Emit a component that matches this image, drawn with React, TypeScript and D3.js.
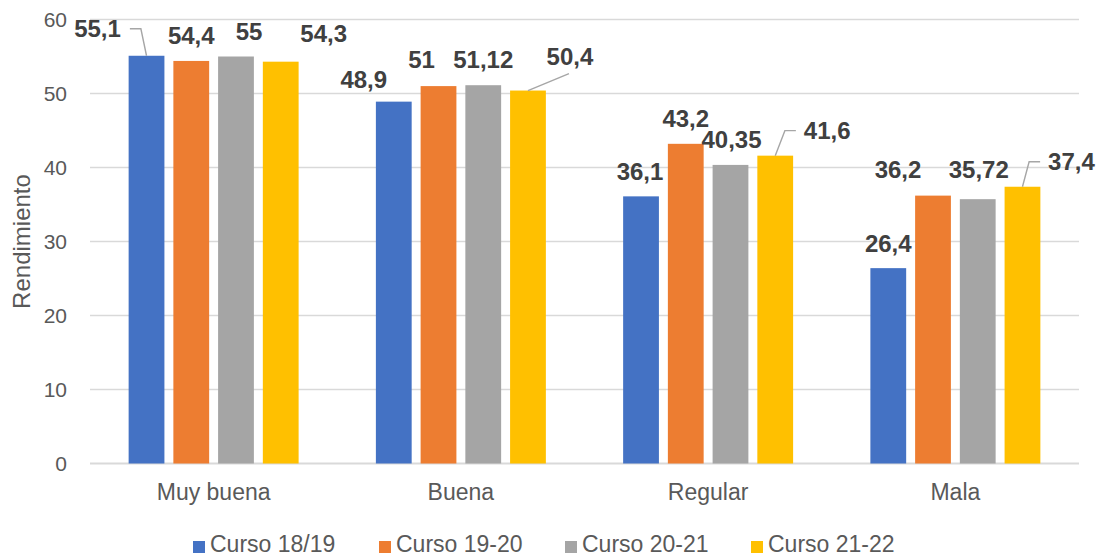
import React from "react";
import * as d3 from "d3";

// categories and series
const categories = ["Muy buena", "Buena", "Regular", "Mala"];
const seriesNames = ["Curso 18/19", "Curso 19-20", "Curso 20-21", "Curso 21-22"];
const curso1819 = [55.1, 48.9, 36.1, 26.4];
const curso1920 = [54.4, 51, 43.2, 36.2];
const curso2021 = [55, 51.12, 40.35, 35.72];
const curso2122 = [54.3, 50.4, 41.6, 37.4];
const seriesValues = [curso1819, curso1920, curso2021, curso2122];
const yTicks = [0, 10, 20, 30, 40, 50, 60];
const colors = ["#4472C4", "#ED7D31", "#A5A5A5", "#FFC000"];

// label nudges (relative to the top centre of each bar), as placed in the original
const labelNudge: [number, number][][] = [
  [[-49, -19], [-30, -14], [-1, -16], [0, -16]],
  [[0, -17], [-17, -18], [0, -17], [-35, -18]],
  [[13, -17], [0, -17], [1, -17], [1, -21]],
  [[43, -20], [42, -26], [52, -17], [49, -17]],
];
// leader lines: "left" elbow, "right" elbow, "straight"
const leaders: (string | null)[][] = [
  ["left", null, null, null],
  [null, null, null, null],
  [null, null, null, null],
  [null, "straight", "right", "right"],
];

const W = 1103;
const H = 556;
const margin = { left: 90, right: 24, top: 19.5, bottom: 92.5 };
const labelFont = 24;

const fmt = (v: number) => String(v).replace(".", ",");
const textWidth = (s: string, size: number) =>
  s.split("").reduce((a, c) => a + (c === "," ? 0.278 : 0.556), 0) * size;

export default function App() {
  const x0 = d3
    .scaleBand<string>()
    .domain(categories)
    .range([margin.left, W - margin.right])
    .paddingInner(0.3125)
    .paddingOuter(0.15625);
  const x1 = d3
    .scaleBand<number>()
    .domain(d3.range(seriesNames.length))
    .range([0, x0.bandwidth()])
    .paddingInner(0.2);
  const y = d3
    .scaleLinear()
    .domain([0, 60])
    .range([H - margin.bottom, margin.top]);

  const legendStep = 186;
  const legendX = 193;

  return (
    <svg
      width={W}
      height={H}
      style={{ position: "absolute", left: 0, top: 0, background: "#fff" }}
      fontFamily="'Liberation Sans', Arial, sans-serif"
    >
      {/* gridlines */}
      {yTicks.map((t) => (
        <g key={t}>
          <line
            x1={margin.left}
            x2={W - margin.right}
            y1={y(t)}
            y2={y(t)}
            stroke="#D9D9D9"
            strokeWidth={t === 0 ? 2 : 1.5}
          />
          <text
            x={67}
            y={y(t)}
            dy="0.35em"
            textAnchor="end"
            fontSize={21}
            fill="#595959"
          >
            {t}
          </text>
        </g>
      ))}

      <text
        transform={`translate(30,${(y(0) + y(60)) / 2}) rotate(-90)`}
        textAnchor="middle"
        fontSize={24}
        fill="#595959"
      >
        Rendimiento
      </text>

      {/* bars */}
      {seriesValues.map((vals, s) =>
        vals.map((v, i) => (
          <rect
            key={`${s}-${i}`}
            x={x0(categories[i])! + x1(s)!}
            y={y(v)}
            width={x1.bandwidth()}
            height={y(0) - y(v)}
            fill={colors[s]}
          />
        ))
      )}

      {/* data labels */}
      {seriesValues.map((vals, s) =>
        vals.map((v, i) => {
          const cx = x0(categories[i])! + x1(s)! + x1.bandwidth() / 2;
          const top = y(v);
          const [dx, dy] = labelNudge[s][i];
          const lx = cx + dx;
          const ly = top + dy;
          const label = fmt(v);
          const half = textWidth(label, labelFont) / 2;
          const mid = ly - 8;
          const kind = leaders[s][i];
          let path = "";
          if (kind === "left") {
            path = `M${lx + half + 9},${mid}H${lx + half + 20}L${cx},${top}`;
          } else if (kind === "right") {
            path = `M${lx - half - 8},${mid}H${lx - half - 19}L${cx},${top}`;
          } else if (kind === "straight") {
            path = `M${cx},${top}L${lx - 1},${ly + 9}`;
          }
          return (
            <g key={`l-${s}-${i}`}>
              {path && <path d={path} fill="none" stroke="#A6A6A6" strokeWidth={1.4} />}
              <text
                x={lx}
                y={ly}
                textAnchor="middle"
                fontSize={labelFont}
                fontWeight="bold"
                fill="#404040"
              >
                {label}
              </text>
            </g>
          );
        })
      )}

      {/* category labels */}
      {categories.map((c) => (
        <text
          key={c}
          x={x0(c)! + x0.bandwidth() / 2}
          y={500}
          textAnchor="middle"
          fontSize={23}
          fill="#595959"
        >
          {c}
        </text>
      ))}

      {/* legend */}
      {seriesNames.map((n, s) => (
        <g key={n} transform={`translate(${legendX + s * legendStep},0)`}>
          <rect x={0} y={541} width={12} height={12} fill={colors[s]} />
          <text x={17} y={552} fontSize={23} fill="#595959">
            {n}
          </text>
        </g>
      ))}
    </svg>
  );
}
